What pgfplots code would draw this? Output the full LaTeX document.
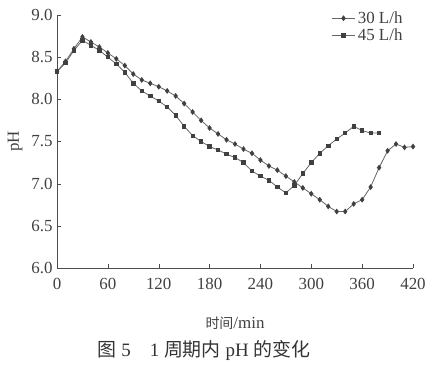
\documentclass[border=0pt]{standalone}
\usepackage{pgfplots}
\pgfplotsset{compat=1.18}
\usepackage{fontspec}
\setmainfont{Liberation Serif}
\newfontfamily\cjk{Noto Sans CJK SC}
\begin{document}
\begin{tikzpicture}
\begin{axis}[
  name=a,
  scale only axis,
  width=356bp, height=253bp,
  xmin=0, xmax=420, ymin=6, ymax=9,
  axis lines=left,
  axis line style={black!70, -},
  tick align=inside,
  tick style={black!70},
  major tick length=4bp,
  xtick={0,60,...,420},
  ytick={6,6.5,...,9},
  yticklabel style={xshift=-1bp, /pgf/number format/fixed, /pgf/number format/fixed zerofill, /pgf/number format/precision=1},
  /pgf/number format/assume math mode=true,
  ticklabel style={font=\fontsize{17}{18}\selectfont, black!75},
  xticklabel style={yshift=-7bp},
  xlabel={{\cjk\fontsize{14}{16}\selectfont 时间}/min},
  ylabel={pH},
  label style={font=\fontsize{17}{18}\selectfont, black!75},
  xlabel style={yshift=-20bp},
  ylabel style={yshift=2bp},
  legend style={draw=none, fill=none, at={(0.985,1.03)}, anchor=north east,
    font=\fontsize{17}{18}\selectfont, text=black!75, row sep=0pt},
  legend image code/.code={\draw[mark repeat=2,mark phase=2] plot coordinates {(0cm,0cm)(0.42cm,0cm)(0.84cm,0cm)};},
  legend cell align=left,
  clip=false,
]
\addplot[black!60, line width=0.8pt, mark=diamond*, mark size=2.3pt, mark options={fill=black!75, draw=black!75}] coordinates {
(0,8.33)(10,8.45)(20,8.60)(30,8.74)(40,8.68)(50,8.62)(60,8.55)(70,8.48)(80,8.40)(90,8.30)
(100,8.23)(110,8.19)(120,8.15)(130,8.10)(140,8.04)(150,7.95)(160,7.85)(170,7.75)(180,7.66)(190,7.59)
(200,7.52)(210,7.47)(220,7.41)(230,7.36)(240,7.28)(250,7.21)(260,7.16)(270,7.09)(280,7.02)(290,6.95)
(300,6.88)(310,6.81)(320,6.73)(330,6.67)(340,6.67)(350,6.76)(360,6.81)(370,6.96)(380,7.19)(390,7.39)
(400,7.47)(410,7.43)(420,7.44)};
\addlegendentry{30 L/h}
\addplot[black!60, line width=0.8pt, mark=square*, mark size=1.7pt, mark options={fill=black!75, draw=black!75}] coordinates {
(0,8.33)(10,8.43)(20,8.58)(30,8.70)(40,8.64)(50,8.58)(60,8.50)(70,8.42)(80,8.32)(90,8.19)
(100,8.10)(110,8.04)(120,7.98)(130,7.91)(140,7.81)(150,7.68)(160,7.57)(170,7.50)(180,7.44)(190,7.40)
(200,7.35)(210,7.31)(220,7.25)(230,7.15)(240,7.09)(250,7.04)(260,6.96)(270,6.89)(280,6.98)(290,7.12)
(300,7.25)(310,7.36)(320,7.45)(330,7.53)(340,7.60)(350,7.68)(360,7.63)(370,7.60)(380,7.60)};
\addlegendentry{45 L/h}
\end{axis}
\node[font=\fontsize{19}{21}\selectfont, black!80] at ([xshift=-31bp, yshift=-82bp]a.south) {{\cjk 图} 5\quad 1 {\cjk 周期内} pH {\cjk 的变化}};
\path ([xshift=-57bp, yshift=-102bp]a.south west) rectangle ([xshift=18bp, yshift=15bp]a.north east);
\end{tikzpicture}
\end{document}
